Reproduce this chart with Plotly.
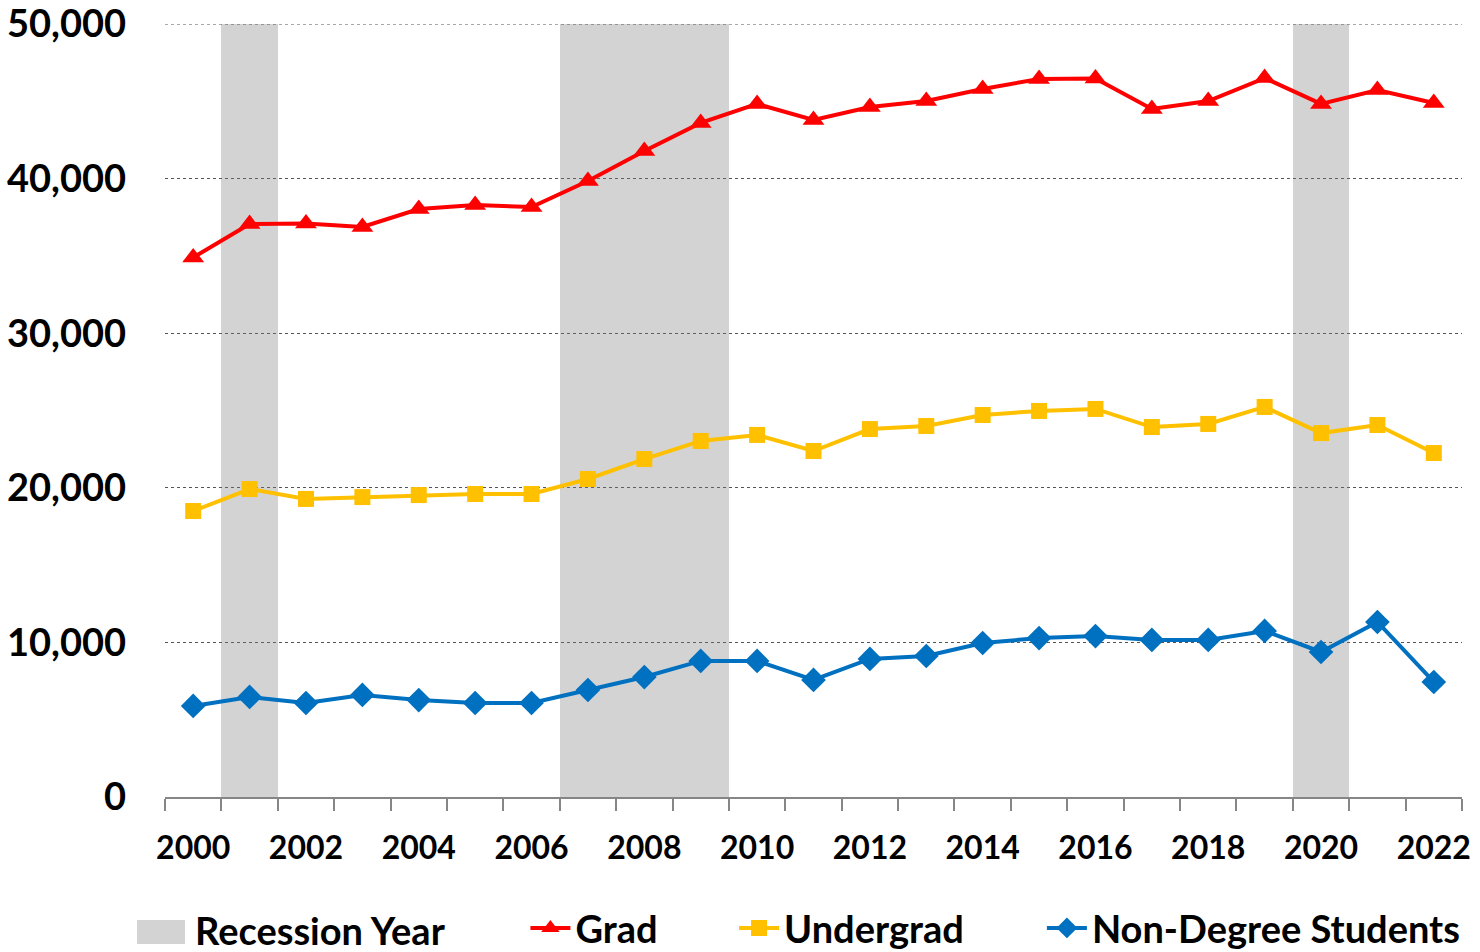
import plotly.graph_objects as go

# ── Data ──────────────────────────────────────────────────────────────────────
years = list(range(2000, 2023))

grad = [34900, 37060, 37100, 36870, 38030, 38290, 38160, 39840, 41790, 43600,
        44830, 43790, 44630, 45020, 45800, 46440, 46480, 44500, 45020, 46500,
        44830, 45730, 44890]

undergrad = [18500, 19920, 19280, 19400, 19530, 19600, 19600, 20570, 21860, 23030,
             23420, 22380, 23800, 24000, 24710, 24970, 25100, 23930, 24130, 25230,
             23540, 24060, 22250]

non_degree = [5890, 6470, 6080, 6600, 6270, 6080, 6080, 6920, 7760, 8800,
              8800, 7570, 8930, 9120, 9960, 10280, 10410, 10160, 10160, 10740,
              9380, 11320, 7440]

recession_years = [2001, 2007, 2008, 2009, 2020]
recession_height = 50000

x_labels = [str(y) for y in range(2000, 2023, 2)]

# ── Style ─────────────────────────────────────────────────────────────────────
_C_RED = "#FF0000"
_C_GOLD = "#FFC000"
_C_BLUE = "#0070C0"
_C_SHADE = "#D3D3D3"
_C_GRID = "#555555"
_FONT = dict(family="Lato, Arial, sans-serif", size=34, color="#000000", weight="bold")
_LEG_FONT = dict(family="Lato, Arial, sans-serif", size=38, color="#000000", weight="bold")

# légende : Recession + 3 séries, chacune dans sa propre légende
_LEG = dict(orientation="h", xref="container", yref="container", y=0.025,
            yanchor="middle", xanchor="left", font=_LEG_FONT,
            bgcolor="rgba(0,0,0,0)", borderwidth=0, itemwidth=40)

fig = go.Figure()

fig.add_trace(go.Bar(
    x=recession_years,
    y=[recession_height] * len(recession_years),
    width=1,
    name="Recession Year",
    showlegend=False,
    marker=dict(color="rgba(120,120,120,0.33)", line=dict(width=0)),
))

fig.add_trace(go.Scatter(
    x=years, y=grad, name="Grad", mode="lines+markers", legend="legend",
    line=dict(color=_C_RED, width=4),
    marker=dict(symbol="triangle-up", size=19, color=_C_RED),
))
fig.add_trace(go.Scatter(
    x=years, y=undergrad, name="Undergrad", mode="lines+markers", legend="legend2",
    line=dict(color=_C_GOLD, width=4),
    marker=dict(symbol="square", size=16, color=_C_GOLD),
))
fig.add_trace(go.Scatter(
    x=years, y=non_degree, name="Non-Degree Students", mode="lines+markers",
    legend="legend3",
    line=dict(color=_C_BLUE, width=4),
    marker=dict(symbol="diamond", size=19, color=_C_BLUE),
))

# top gridline (plotly skips it at the range edge)
fig.add_hline(y=recession_height, line=dict(color=_C_GRID, width=1, dash="dot"),
              layer="above")

# Recession legend swatch (wide grey box as in the original)
fig.add_shape(type="rect", xref="paper", yref="paper",
              x0=-0.0216, x1=0.0154, y0=-0.1902, y1=-0.1591,
              fillcolor=_C_SHADE, line=dict(width=0))
fig.add_annotation(text="Recession Year", xref="paper", yref="paper",
                   x=0.0216, y=-0.1720, xanchor="left", yanchor="middle",
                   showarrow=False, font=_LEG_FONT)

fig.update_layout(
    width=1480,
    height=952,
    template="plotly_white",
    font=_FONT,
    margin=dict(l=165, r=18, t=24, b=155),
    bargap=0,
    legend=dict(_LEG, x=0.355),
    legend2=dict(_LEG, x=0.496),
    legend3=dict(_LEG, x=0.704),
    xaxis=dict(
        range=[1999.5, 2022.5],
        tickvals=[int(t) for t in x_labels],
        ticktext=x_labels,
        ticks="",
        showgrid=False,
        zeroline=False,
        automargin=False,
        ticklabeloverflow="allow",
        showline=True, linecolor="#868686", linewidth=1.5,
        ticklabelstandoff=22,
        tickfont=dict(size=32),
        minor=dict(tick0=1999.5, dtick=1, ticks="outside", ticklen=12,
                   tickcolor="#868686", tickwidth=1.5, showgrid=False),
    ),
    yaxis=dict(
        range=[0, 50000],
        dtick=10000,
        tickformat=",",
        showline=False,
        zeroline=False,
        automargin=False,
        ticklabeloverflow="allow",
        showgrid=True, gridcolor=_C_GRID, gridwidth=1, griddash="dot",
        ticklabelstandoff=38,
        tickfont=dict(size=38),
    ),
)

fig.write_html("out.html", config={"displayModeBar": False},
               post_script="document.body.style.margin='0';")
